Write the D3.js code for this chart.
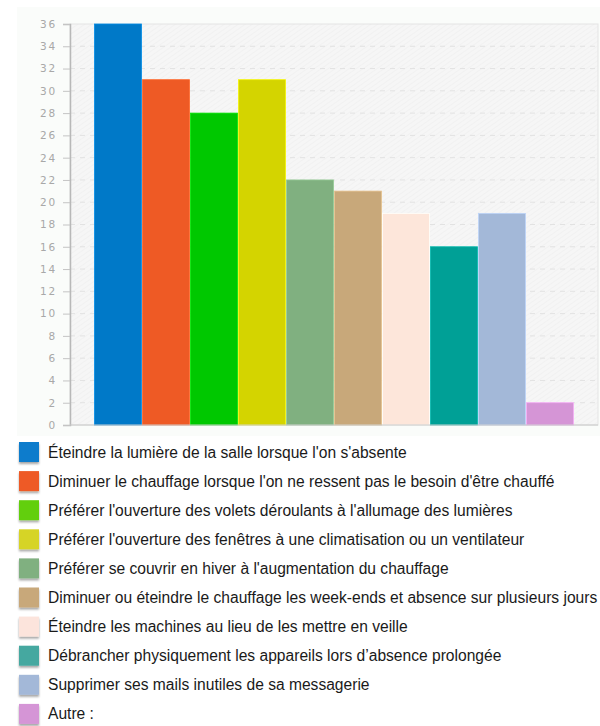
<!DOCTYPE html>
<html>
<head>
<meta charset="utf-8">
<script src="https://cdn.jsdelivr.net/npm/d3@7"></script>
<style>
  body { margin: 0; background: #fff; }
</style>
</head>
<body>
<div id="container"></div>
<script>
// data
let categories = [
  "Éteindre la lumière de la salle lorsque l'on s'absente",
  "Diminuer le chauffage lorsque l'on ne ressent pas le besoin d'être chauffé",
  "Préférer l'ouverture des volets déroulants à l'allumage des lumières",
  "Préférer l'ouverture des fenêtres à une climatisation ou un ventilateur",
  "Préférer se couvrir en hiver à l'augmentation du chauffage",
  "Diminuer ou éteindre le chauffage les week-ends et absence sur plusieurs jours",
  "Éteindre les machines au lieu de les mettre en veille",
  "Débrancher physiquement les appareils lors d’absence prolongée",
  "Supprimer ses mails inutiles de sa messagerie",
  "Autre :"
];
let counts = [36, 31, 28, 31, 22, 21, 19, 16, 19, 2];
let yTicks = d3.range(0, 37, 2);
let barColors = ["#0079c8", "#ee5a25", "#00c800", "#d4d400", "#80b080",
                 "#c8a87a", "#fde6da", "#00a096", "#a3b8d8", "#d595d6"];
let legendColors = ["#0a7ccc", "#ee5a25", "#62cf10", "#d6d428", "#80b080",
                    "#c8a87a", "#fce4dc", "#45a8a0", "#a3b8d8", "#d595d6"];

let w = 600;
let h = 726;

let viz = d3.select("#container")
  .append("svg")
    .attr("width", w)
    .attr("height", h)
    .style("font-family", "'Liberation Sans', Arial, sans-serif")
;

// hatch pattern for the plot background
let defs = viz.append("defs");
let pat = defs.append("pattern")
    .attr("id", "hatch")
    .attr("width", 4)
    .attr("height", 4)
    .attr("patternUnits", "userSpaceOnUse")
    .attr("patternTransform", "rotate(-35)");
pat.append("rect").attr("width", 4).attr("height", 4).attr("fill", "#f6f6f6");
pat.append("line").attr("x1", 0).attr("y1", 0).attr("x2", 4).attr("y2", 0)
    .attr("stroke", "#efefef").attr("stroke-width", 1.2);

let shadow = defs.append("filter").attr("id", "shadow")
    .attr("x", "-20%").attr("y", "-20%").attr("width", "150%").attr("height", "160%");
shadow.append("feDropShadow")
    .attr("dx", 0).attr("dy", 2).attr("stdDeviation", 1.2)
    .attr("flood-color", "#000").attr("flood-opacity", 0.35);

// chart panel
viz.append("rect")
    .attr("x", 17).attr("y", 7)
    .attr("width", w - 17).attr("height", 429)
    .attr("fill", "#fafcfa");

let plotLeft = 70, plotRight = 598, plotTop = 24, plotBottom = 425;

viz.append("rect")
    .attr("x", plotLeft).attr("y", plotTop)
    .attr("width", plotRight - plotLeft).attr("height", plotBottom - plotTop)
    .attr("fill", "url(#hatch)")
    .attr("stroke", "#e4e4e4");

let yScale = d3.scaleLinear().domain([0, 36]).range([plotBottom, plotTop]);
let xScale = d3.scaleBand().domain(d3.range(categories.length))
    .range([94, 574]).paddingInner(0).paddingOuter(0);

// dashed grid
viz.append("g")
  .selectAll("line")
  .data(yTicks.filter(function(d){ return d > 0 && d < 36; }))
  .enter()
  .append("line")
    .attr("x1", plotLeft).attr("x2", plotRight)
    .attr("y1", function(d){ return yScale(d); })
    .attr("y2", function(d){ return yScale(d); })
    .attr("stroke", "#e2e2e2")
    .attr("stroke-dasharray", "5,5");

// bars
viz.append("g").selectAll("rect")
  .data(counts)
  .enter()
  .append("rect")
    .attr("x", function(d, i){ return xScale(i) + 0.5; })
    .attr("width", xScale.bandwidth() - 1)
    .attr("y", function(d){ return yScale(d); })
    .attr("height", function(d){ return yScale(0) - yScale(d); })
    .attr("fill", function(d, i){ return barColors[i]; })
    .attr("stroke", function(d, i){ return d3.color(barColors[i]).brighter(0.4); })
    .attr("stroke-width", 0.8);

// y axis
let yAxis = d3.axisLeft(yScale).tickValues(yTicks).tickSize(7).tickPadding(6);
let yAxisGroup = viz.append("g")
    .attr("transform", "translate(" + plotLeft + ",0)")
    .call(yAxis);
yAxisGroup.select(".domain").attr("stroke", "#b8b8b8").attr("stroke-width", 1.5);
yAxisGroup.selectAll(".tick line").attr("stroke", "#c4c4c4");
yAxisGroup.selectAll(".tick text")
    .attr("fill", "#a8a8a8")
    .style("font-family", "'DejaVu Sans', sans-serif")
    .style("font-size", "10.5px")
    .style("letter-spacing", "1.8px");

// baseline
viz.append("line")
    .attr("x1", plotLeft).attr("x2", plotRight)
    .attr("y1", plotBottom).attr("y2", plotBottom)
    .attr("stroke", "#c8c8c8");

// legend
let legend = viz.append("g").attr("transform", "translate(19,442)");
let rows = legend.selectAll("g")
  .data(categories)
  .enter()
  .append("g")
    .attr("transform", function(d, i){ return "translate(0," + (i * 29.1) + ")"; });

rows.append("rect")
    .attr("width", 20).attr("height", 20)
    .attr("fill", function(d, i){ return legendColors[i]; })
    .attr("filter", "url(#shadow)");

rows.append("text")
    .attr("x", 29).attr("y", 15.5)
    .attr("fill", "#1a1a1a")
    .style("font-size", "15.6px")
    .text(function(d){ return d; });
</script>
</body>
</html>
